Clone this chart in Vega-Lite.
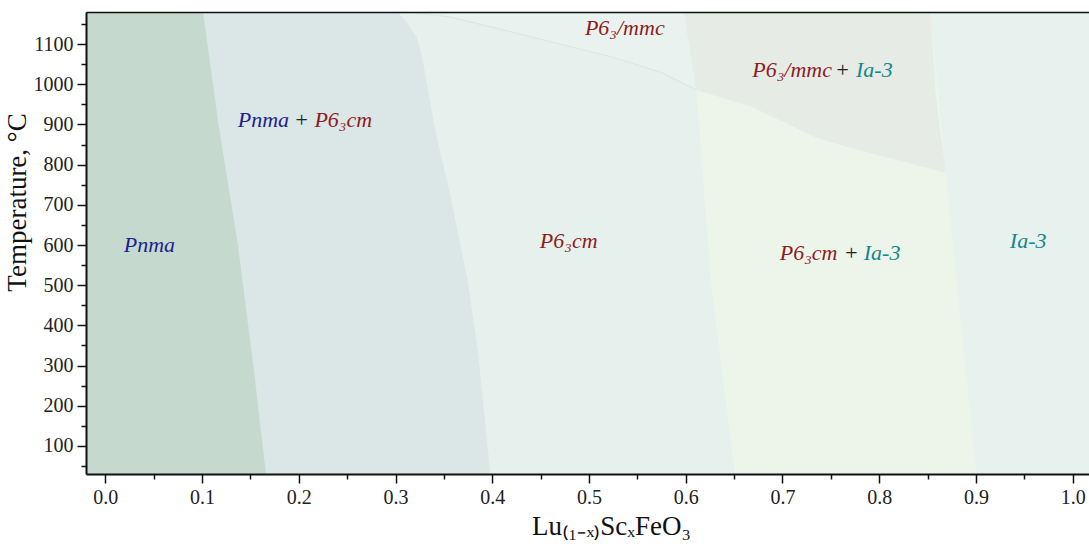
{
  "$schema": "https://vega.github.io/schema/vega-lite/v6.json",
  "width": 1006,
  "height": 462,
  "autosize": {"type": "none"},
  "padding": {"left": 86, "top": 12, "right": 0, "bottom": 72},
  "background": "#ffffff",
  "config": {
    "view": {"fill": "#e7f1ed", "stroke": null},
    "axis": {
      "domainColor": "#111111", "domainWidth": 2, "tickColor": "#111111", "tickWidth": 1.5,
      "tickSize": 9, "grid": false, "labelFont": "Liberation Serif", "labelFontSize": 20,
      "labelColor": "#222222", "titleFont": "Liberation Serif", "titleFontSize": 27,
      "titleFontWeight": "normal", "titleColor": "#111111", "labelPadding": 4
    },
    "text": {"font": "Liberation Serif"}
  },
  "datasets": {
    "b1": [{"T": 30, "x": 0.166}, {"T": 300, "x": 0.153}, {"T": 600, "x": 0.137}, {"T": 900, "x": 0.117}, {"T": 1180, "x": 0.101}],
    "b2": [{"T": 30, "x": 0.398}, {"T": 339, "x": 0.385}, {"T": 513, "x": 0.3745}, {"T": 730, "x": 0.356}, {"T": 886, "x": 0.341}, {"T": 979, "x": 0.334}, {"T": 1061, "x": 0.328}, {"T": 1118, "x": 0.322}, {"T": 1153, "x": 0.312}, {"T": 1180, "x": 0.302}],
    "b3": [{"T": 30, "x": 0.651}, {"T": 513, "x": 0.626}, {"T": 985, "x": 0.611}, {"T": 1180, "x": 0.598}],
    "b4": [{"T": 30, "x": 0.9005}, {"T": 513, "x": 0.88}, {"T": 780, "x": 0.869}, {"T": 1180, "x": 0.853}],
    "mmc": [{"T": 986, "xl": 0.611, "xr": 0.611}, {"T": 1029, "xl": 0.575, "xr": 0.609}, {"T": 1068, "xl": 0.524, "xr": 0.607}, {"T": 1118, "xl": 0.44, "xr": 0.603}, {"T": 1168, "xl": 0.356, "xr": 0.599}, {"T": 1180, "xl": 0.31, "xr": 0.598}],
    "mmcIa": [{"T": 780, "xl": 0.869, "xr": 0.869}, {"T": 837, "xl": 0.777, "xr": 0.866}, {"T": 867, "xl": 0.735, "xr": 0.864}, {"T": 944, "xl": 0.668, "xr": 0.86}, {"T": 986, "xl": 0.611, "xr": 0.858}, {"T": 1180, "xl": 0.598, "xr": 0.853}],
    "labels": [
      {"x": 0.0455, "T": 600, "t": "Pnma", "ph": "Pnma"},
      {"x": 0.1634, "T": 910, "t": "Pnma", "ph": "Pnma"},
      {"x": 0.2028, "T": 910, "t": "+", "ph": "plus"},
      {"x": 0.246, "T": 910, "t": "P6₃cm", "ph": "P6"},
      {"x": 0.537, "T": 1140, "t": "P6₃/mmc", "ph": "P6"},
      {"x": 0.71, "T": 1035, "t": "P6₃/mmc", "ph": "P6"},
      {"x": 0.762, "T": 1035, "t": "+", "ph": "plus"},
      {"x": 0.795, "T": 1035, "t": "Ia-3", "ph": "Ia3"},
      {"x": 0.479, "T": 610, "t": "P6₃cm", "ph": "P6"},
      {"x": 0.727, "T": 580, "t": "P6₃cm", "ph": "P6"},
      {"x": 0.771, "T": 580, "t": "+", "ph": "plus"},
      {"x": 0.803, "T": 580, "t": "Ia-3", "ph": "Ia3"},
      {"x": 0.954, "T": 610, "t": "Ia-3", "ph": "Ia3"}
    ]
  },
  "resolve": {"axis": {"x": "independent", "y": "independent"}},
  "layer": [
    {
      "data": {"name": "b4"},
      "mark": {"type": "area", "orient": "horizontal", "fill": "#edf5eb", "clip": true},
      "encoding": {
        "y": {"field": "T", "type": "quantitative", "scale": {"domain": [30, 1180], "nice": false, "zero": false},
              "axis": {"orient": "left", "zindex": 2, "values": [100, 200, 300, 400, 500, 600, 700, 800, 900, 1000, 1100], "format": "d", "title": "Temperature, °C", "titlePadding": 2, "titleY": 190}},
        "x": {"field": "x", "type": "quantitative", "scale": {"domain": [-0.02, 1.02], "nice": false, "zero": false},
              "axis": {"orient": "bottom", "zindex": 2, "values": [0, 0.1, 0.2, 0.3, 0.4, 0.5, 0.6, 0.7, 0.8, 0.9, 1.0], "format": ".1f", "title": "Lu₍₁₋ₓ₎ScₓFeO₃", "titlePadding": 6, "titleX": 525}},
        "x2": {"datum": -0.02}
      }
    },
    {
      "data": {"name": "b3"},
      "mark": {"type": "area", "orient": "horizontal", "fill": "#e6f1ed", "clip": true},
      "encoding": {
        "y": {"field": "T", "type": "quantitative", "scale": {"domain": [30, 1180], "nice": false, "zero": false},
              "axis": {"orient": "left", "zindex": 2, "values": [50, 150, 250, 350, 450, 550, 650, 750, 850, 950, 1050, 1150], "labels": false, "domain": false, "tickSize": 5, "title": null}},
        "x": {"field": "x", "type": "quantitative", "scale": {"domain": [-0.02, 1.02], "nice": false, "zero": false},
              "axis": {"orient": "bottom", "zindex": 2, "values": [0.05, 0.15, 0.25, 0.35, 0.45, 0.55, 0.65, 0.75, 0.85, 0.95], "labels": false, "domain": false, "tickSize": 5, "title": null}},
        "x2": {"datum": -0.02}
      }
    },
    {
      "data": {"name": "b2"},
      "mark": {"type": "area", "orient": "horizontal", "fill": "#dbe6e6", "clip": true},
      "encoding": {
        "y": {"field": "T", "type": "quantitative", "scale": {"domain": [30, 1180], "nice": false, "zero": false}, "axis": null},
        "x": {"field": "x", "type": "quantitative", "scale": {"domain": [-0.02, 1.02], "nice": false, "zero": false},
              "axis": {"orient": "top", "zindex": 2, "labels": false, "ticks": false, "domain": true, "domainWidth": 1.5, "title": null}},
        "x2": {"datum": -0.02}
      }
    },
    {
      "data": {"name": "b1"},
      "mark": {"type": "area", "orient": "horizontal", "fill": "#c5d9cf", "clip": true},
      "encoding": {
        "y": {"field": "T", "type": "quantitative", "scale": {"domain": [30, 1180], "nice": false, "zero": false}, "axis": null},
        "x": {"field": "x", "type": "quantitative", "scale": {"domain": [-0.02, 1.02], "nice": false, "zero": false}, "axis": null},
        "x2": {"datum": -0.02}
      }
    },
    {
      "data": {"name": "mmc"},
      "mark": {"type": "area", "orient": "horizontal", "fill": "#e9f2ee", "clip": true},
      "encoding": {
        "y": {"field": "T", "type": "quantitative", "scale": {"domain": [30, 1180], "nice": false, "zero": false}, "axis": null},
        "x": {"field": "xl", "type": "quantitative", "scale": {"domain": [-0.02, 1.02], "nice": false, "zero": false}, "axis": null},
        "x2": {"field": "xr"}
      }
    },
    {
      "data": {"name": "mmcIa"},
      "mark": {"type": "area", "orient": "horizontal", "fill": "#e6ebe6", "clip": true},
      "encoding": {
        "y": {"field": "T", "type": "quantitative", "scale": {"domain": [30, 1180], "nice": false, "zero": false}, "axis": null},
        "x": {"field": "xl", "type": "quantitative", "scale": {"domain": [-0.02, 1.02], "nice": false, "zero": false}, "axis": null},
        "x2": {"field": "xr"}
      }
    },
    {
      "data": {"name": "mmc"},
      "mark": {"type": "line", "stroke": "#dde7e2", "strokeWidth": 1.2, "clip": true},
      "encoding": {
        "y": {"field": "T", "type": "quantitative", "scale": {"domain": [30, 1180], "nice": false, "zero": false}, "axis": null},
        "x": {"field": "xl", "type": "quantitative", "scale": {"domain": [-0.02, 1.02], "nice": false, "zero": false}, "axis": null},
        "order": {"field": "T", "type": "quantitative"}
      }
    },
    {
      "data": {"name": "labels"},
      "mark": {"type": "text", "font": "Liberation Serif", "fontStyle": "italic", "fontSize": 22, "align": "center", "baseline": "middle"},
      "encoding": {
        "y": {"field": "T", "type": "quantitative", "scale": {"domain": [30, 1180], "nice": false, "zero": false}, "axis": null},
        "x": {"field": "x", "type": "quantitative", "scale": {"domain": [-0.02, 1.02], "nice": false, "zero": false}, "axis": null},
        "text": {"field": "t"},
        "color": {"field": "ph", "type": "nominal", "legend": null,
                  "scale": {"domain": ["Pnma", "P6", "Ia3", "plus"], "range": ["#1f1f8f", "#8e1c1c", "#17868a", "#222222"]}}
      }
    }
  ]
}
